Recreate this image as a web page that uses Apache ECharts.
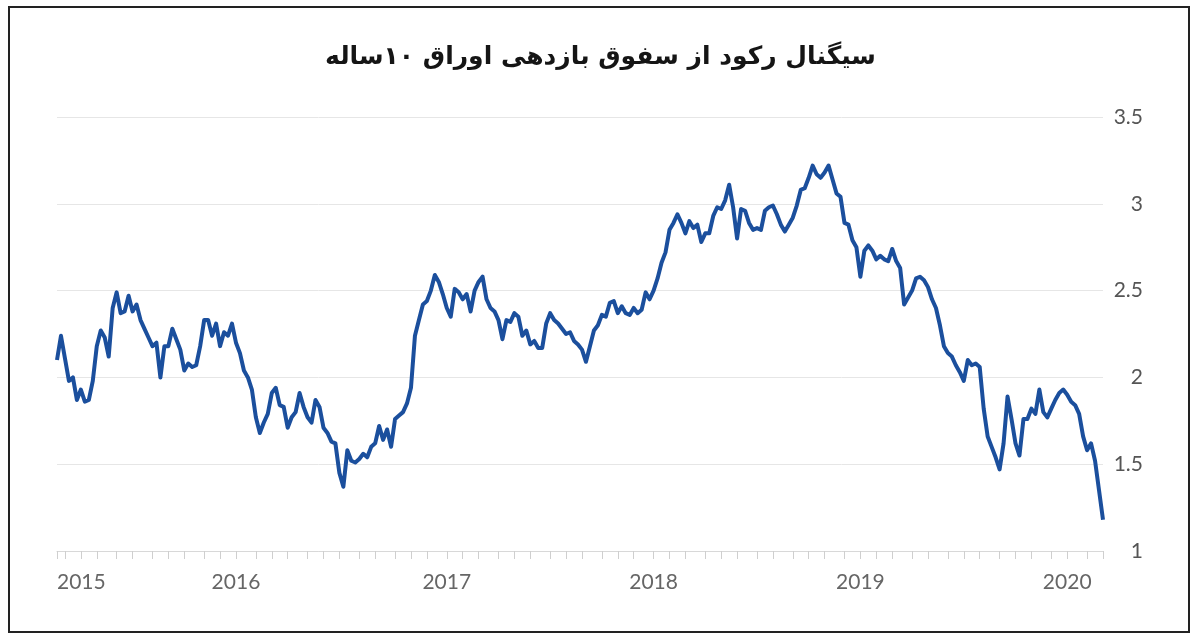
<!DOCTYPE html>
<html>
<head>
<meta charset="utf-8">
<script src="https://cdn.jsdelivr.net/npm/echarts@6/dist/echarts.min.js"></script>
<style>
html,body{margin:0;padding:0;background:#fff;}
#chart{width:1201px;height:643px;}
</style>
</head>
<body>
<div id="chart"></div>
<script>
// weekly values (10-year yield, %)
var startDate = '2015-02-20';
var v2015 = [2.10,2.24,2.11,1.98,2.00,1.87,1.93,1.86,1.87,1.98,
  2.18,2.27,2.23,2.12,2.40,2.49,2.37,2.38,2.47,2.38,
  2.42,2.33,2.28,2.23,2.18,2.20,2.00,2.18,2.18,2.28,
  2.22,2.16,2.04,2.08,2.06,2.07,2.18,2.33,2.33,2.24,
  2.31,2.18,2.26,2.24,2.31];
var v2016 = [2.20,2.14,2.04,2.00,1.93,1.77,1.68,1.74,1.79,1.91,
  1.94,1.84,1.83,1.71,1.77,1.80,1.91,1.83,1.77,1.74,
  1.87,1.83,1.71,1.68,1.63,1.62,1.45,1.37,1.58,1.52,
  1.51,1.53,1.56,1.54,1.60,1.62,1.72,1.64,1.70,1.60,
  1.76,1.78,1.80,1.85,1.94,2.24,2.33,2.42,2.44,2.50,
  2.59,2.55,2.48];
var v2017 = [2.40,2.35,2.51,2.49,2.45,2.48,2.38,2.50,2.55,2.58,
  2.45,2.40,2.38,2.33,2.22,2.33,2.32,2.37,2.35,2.24,
  2.27,2.19,2.21,2.17,2.17,2.31,2.37,2.33,2.31,2.28,
  2.25,2.26,2.21,2.19,2.16,2.09,2.18,2.27,2.30,2.36,
  2.35,2.43,2.44,2.37,2.41,2.37,2.36,2.40,2.37,2.39,
  2.49,2.45];
var v2018 = [2.50,2.57,2.66,2.72,2.85,2.89,2.94,2.89,2.83,2.90,
  2.86,2.88,2.78,2.83,2.83,2.93,2.98,2.97,3.02,3.11,
  2.98,2.80,2.97,2.96,2.89,2.85,2.86,2.85,2.96,2.98,
  2.99,2.94,2.88,2.84,2.88,2.92,2.99,3.08,3.09,3.15,
  3.22,3.17,3.15,3.18,3.22,3.14,3.06,3.04,2.89,2.88,
  2.79,2.75];
var v2019 = [2.58,2.73,2.76,2.73,2.68,2.70,2.68,2.67,2.74,2.67,
  2.63,2.42,2.46,2.50,2.57,2.58,2.56,2.52,2.45,2.40,
  2.30,2.18,2.14,2.12,2.07,2.03,1.98,2.10,2.07,2.08,
  2.06,1.82,1.66,1.60,1.54,1.47,1.62,1.89,1.76,1.62,
  1.55,1.76,1.76,1.82,1.79,1.93,1.80,1.77,1.82,1.87,
  1.91,1.93];
var v2020 = [1.90,1.86,1.84,1.79,1.66,1.58,1.62,1.52,1.35,1.18];
var yTicks = [1, 1.5, 2, 2.5, 3, 3.5];
var titleText = 'سیگنال رکود از سفوق بازدهی اوراق ۱۰ساله';

var values = [].concat(v2015, v2016, v2017, v2018, v2019, v2020);
var categories = [];
(function(){
  var p = startDate.split('-');
  var t0 = Date.UTC(+p[0], +p[1]-1, +p[2]);
  for (var i = 0; i < values.length; i++) {
    var d = new Date(t0 + i*7*86400000);
    var m = d.getUTCMonth()+1, dd = d.getUTCDate();
    categories.push(d.getUTCFullYear()+'-'+(m<10?'0':'')+m+'-'+(dd<10?'0':'')+dd);
  }
})();

var chart = echarts.init(document.getElementById('chart'));
chart.setOption({
  animation: false,
  backgroundColor: '#fff',
  title: {
    text: titleText,
    left: 'center',
    top: 40,
    textStyle: {fontFamily: 'DejaVu Sans', fontWeight: 'bold', fontSize: 25, color: '#151515'}
  },
  graphic: [{
    type: 'rect', silent: true, z: 100,
    shape: {x: 9, y: 7, width: 1180, height: 625},
    style: {fill: 'none', stroke: '#222', lineWidth: 2}
  }],
  grid: {left: 57, right: 98, top: 117, bottom: 92},
  xAxis: {
    type: 'category',
    data: categories,
    boundaryGap: false,
    axisLine: {lineStyle: {color: '#d8d8d8', width: 1}},
    axisTick: {
      length: 8,
      lineStyle: {color: '#cfcfcf'},
      interval: function(idx, val){ return idx === 0 || val.slice(5,7) !== categories[idx-1].slice(5,7); }
    },
    axisLabel: {
      margin: 21,
      color: '#666',
      fontFamily: 'Lato',
      fontSize: 21,
      alignMinLabel: 'left',
      interval: function(idx, val){ return idx === 0 || val.slice(0,4) !== categories[idx-1].slice(0,4); },
      formatter: function(val){ return val.slice(0,4); }
    },
    splitLine: {show: false}
  },
  yAxis: {
    type: 'value',
    position: 'right',
    min: yTicks[0],
    max: yTicks[yTicks.length-1],
    interval: 0.5,
    axisLine: {show: false},
    axisTick: {show: false},
    axisLabel: {
      align: 'right',
      margin: 40,
      color: '#555',
      fontFamily: 'Lato',
      fontSize: 21
    },
    splitLine: {lineStyle: {color: '#e6e6e6', width: 1}}
  },
  series: [{
    type: 'line',
    data: values,
    symbol: 'none',
    lineStyle: {color: '#1b4f9d', width: 4, join: 'round'},
    z: 5
  }]
});
</script>
</body>
</html>
